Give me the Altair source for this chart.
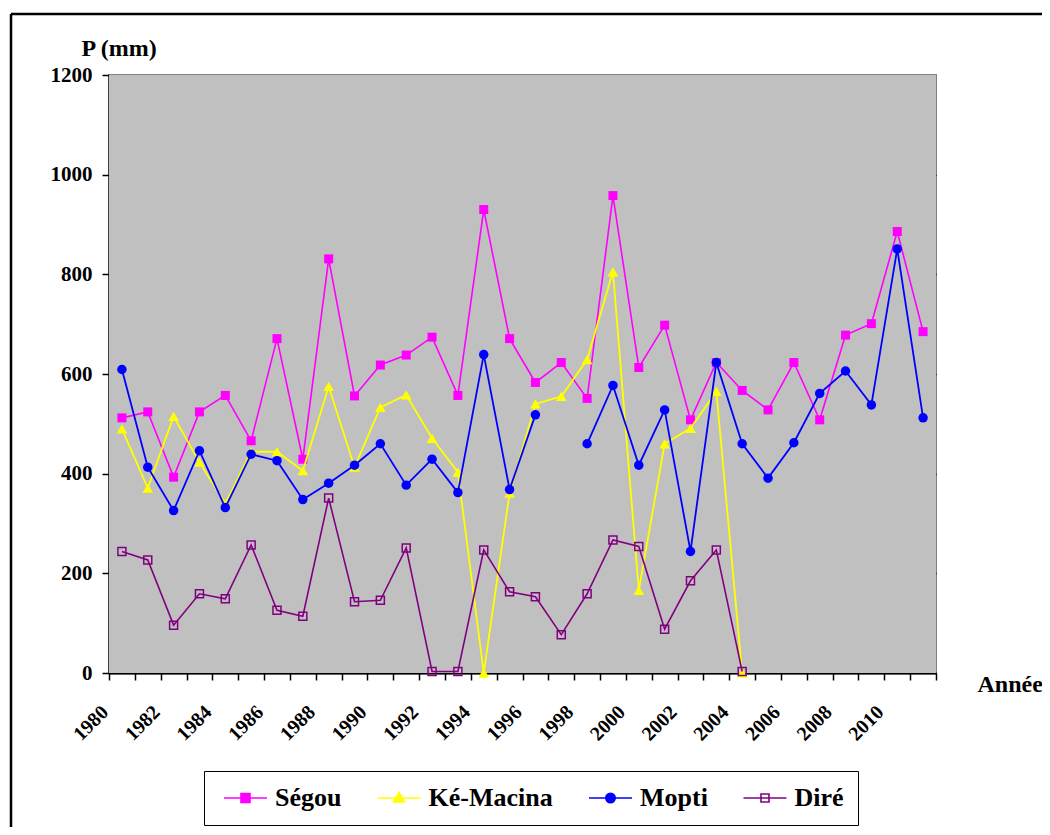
import altair as alt
import pandas as pd

# ---------------- data ----------------
years = list(range(1980, 2012))
stations = ["Ségou", "Ké-Macina", "Mopti", "Diré"]

segou = [512, 524, 393, 524, 557, 466, 671, 429, 831, 556, 618, 638, 674, 557, 930, 671,
         583, 623, 551, 958, 613, 698, 508, 623, 567, 528, 623, 508, 678, 701, 886, 685]
ke_macina = [490, 371, 515, 423, 340, 444, 444, 406, 575, 413, 533, 558, 471, 403, 0, 361,
             540, 555, 629, 805, 166, 460, 491, 565, 0]
mopti = [609, 413, 326, 446, 332, 439, 426, 348, 381, 417, 460, 377, 429, 362, 639, 368,
         518, None, 460, 577, 417, 528, 244, 623, 460, 391, 462, 561, 606, 538, 851, 512]
dire = [244, 227, 96, 159, 149, 257, 126, 114, 351, 143, 146, 251, 3, 3, 247, 163,
        153, 77, 159, 267, 254, 88, 185, 247, 3]

colors = ["#FF00FF", "#FFFF00", "#0000FF", "#800080"]
y_ticks = [0, 200, 400, 600, 800, 1000, 1200]
x_ticks = list(range(1980, 2013))

series = {"Ségou": segou, "Ké-Macina": ke_macina, "Mopti": mopti, "Diré": dire}
rows = []
for name, vals in series.items():
    for yr, v in zip(years, vals):
        rows.append({"station": name, "year": yr, "value": v})
df = pd.DataFrame(rows)

FONT = "Times New Roman, Liberation Serif, Times, DejaVu Serif, serif"

x_enc = alt.X(
    "xpos:Q",
    scale=alt.Scale(domain=[1980, 2012], nice=False, zero=False),
    axis=alt.Axis(
        values=x_ticks,
        labelExpr="(datum.value % 2 == 0 && datum.value <= 2010) ? '' + datum.value : ''",
        labelAngle=-45, labelAlign="right", labelBaseline="alphabetic",
        labelPadding=33, labelFont=FONT, labelFontWeight="bold", labelFontSize=20,
        labelColor="black", labelOverlap=False, labelFlush=False, labelBound=False,
        tickSize=7, tickColor="black", tickWidth=1.5,
        domainColor="black", domainWidth=2, grid=False,
        title="Année", titleFont=FONT, titleFontWeight="bold", titleFontSize=24,
        titleColor="black", titleAngle=0, titleAlign="left", titleBaseline="alphabetic",
        titleX=868, titleY=18,
    ),
)
y_enc = alt.Y(
    "value:Q",
    scale=alt.Scale(domain=[0, 1200], nice=False),
    axis=alt.Axis(
        values=y_ticks, format="d",
        labelFont=FONT, labelFontWeight="bold", labelFontSize=21, labelColor="black",
        labelPadding=10,
        tickSize=7, tickColor="black", tickWidth=1.5,
        domainColor="black", domainWidth=2,
        grid=True, gridWidth=1.5,
        gridColor={"condition": {"test": "datum.value >= 1200", "value": "#808080"}, "value": "black"},
        title="P (mm)", titleFont=FONT, titleFontWeight="bold", titleFontSize=24,
        titleColor="black", titleAngle=0, titleAlign="left", titleBaseline="alphabetic",
        titleX=-28, titleY=-20,
    ),
)

specs = [
    ("Ségou", colors[0], "square", 81, True, 1.6),
    ("Ké-Macina", colors[1], "triangle-up", 115, True, 1.8),
    ("Mopti", colors[2], "circle", 90, True, 1.8),
    ("Diré", colors[3], "square", 64, False, 1.6),
]

layers = []
# plot-area background and outer frame (decoration)
frame = alt.Data(values=[{}])
layers.append(alt.Chart(frame).mark_rect(color="#C0C0C0").encode(
    x=alt.value(0), x2=alt.value(827), y=alt.value(0), y2=alt.value(598)))
layers.append(alt.Chart(frame).mark_rule(color="black", strokeWidth=2.5).encode(
    x=alt.value(-98), x2=alt.value(960), y=alt.value(-61)))
layers.append(alt.Chart(frame).mark_rule(color="black", strokeWidth=2.5).encode(
    x=alt.value(-98), y=alt.value(-61), y2=alt.value(800)))

for name, color, shape, size, filled, lw in specs:
    base = alt.Chart(df).transform_filter(alt.datum.station == name).transform_calculate(
        xpos="datum.year + 0.5")
    layers.append(base.mark_line(color=color, strokeWidth=lw,
                                 invalid="break-paths-show-domains").encode(x=x_enc, y=y_enc))
    layers.append(base.mark_point(shape=shape, size=size, filled=filled, color=color,
                                  strokeWidth=1.5, opacity=1).encode(x=x_enc, y=y_enc))

# legend (custom symbols: line + marker)
paths = [
    "M-0.7,0H3.6M1.0,-0.45H1.9V0.45H1.0Z",
    "M-0.7,0H3.6M1.45,-0.55L2.0,0.4H0.9Z",
    "M-0.7,0H3.6M0.98,0A0.47,0.47 0 1,0 1.92,0A0.47,0.47 0 1,0 0.98,0Z",
    "M-0.7,0H3.6M1.05,-0.4H1.85V0.4H1.05Z",
]
fills = ["#FF00FF", "#FFFF00", "#0000FF", "transparent"]
leg = alt.Legend(
    title=None, orient="none", legendX=95, legendY=696, direction="horizontal", columns=4,
    padding=14, columnPadding=29.5, labelOffset=31, symbolSize=400, symbolStrokeWidth=1.6,
    labelFont=FONT, labelFontWeight="bold", labelFontSize=26, labelColor="black", labelLimit=0,
    strokeColor="black", fillColor="white",
)
legend_layer = alt.Chart(df).transform_filter("false").mark_point(opacity=1, strokeWidth=1.6).encode(
    shape=alt.Shape("station:N", scale=alt.Scale(domain=stations, range=paths), legend=leg),
    fill=alt.Fill("station:N", scale=alt.Scale(domain=stations, range=fills), legend=leg),
    stroke=alt.Stroke("station:N", scale=alt.Scale(domain=stations, range=colors), legend=leg),
)
layers.append(legend_layer)

chart = alt.layer(*layers).properties(
    width=827, height=598,
    padding={"left": 101, "top": 67, "right": 106, "bottom": 154},
    autosize=alt.AutoSizeParams(type="none"),
    background="white",
    view=alt.ViewBackground(fill="#C0C0C0", stroke="#808080", strokeWidth=2),
)

chart.save("out.html", embed_options={"renderer": "svg", "actions": False})
